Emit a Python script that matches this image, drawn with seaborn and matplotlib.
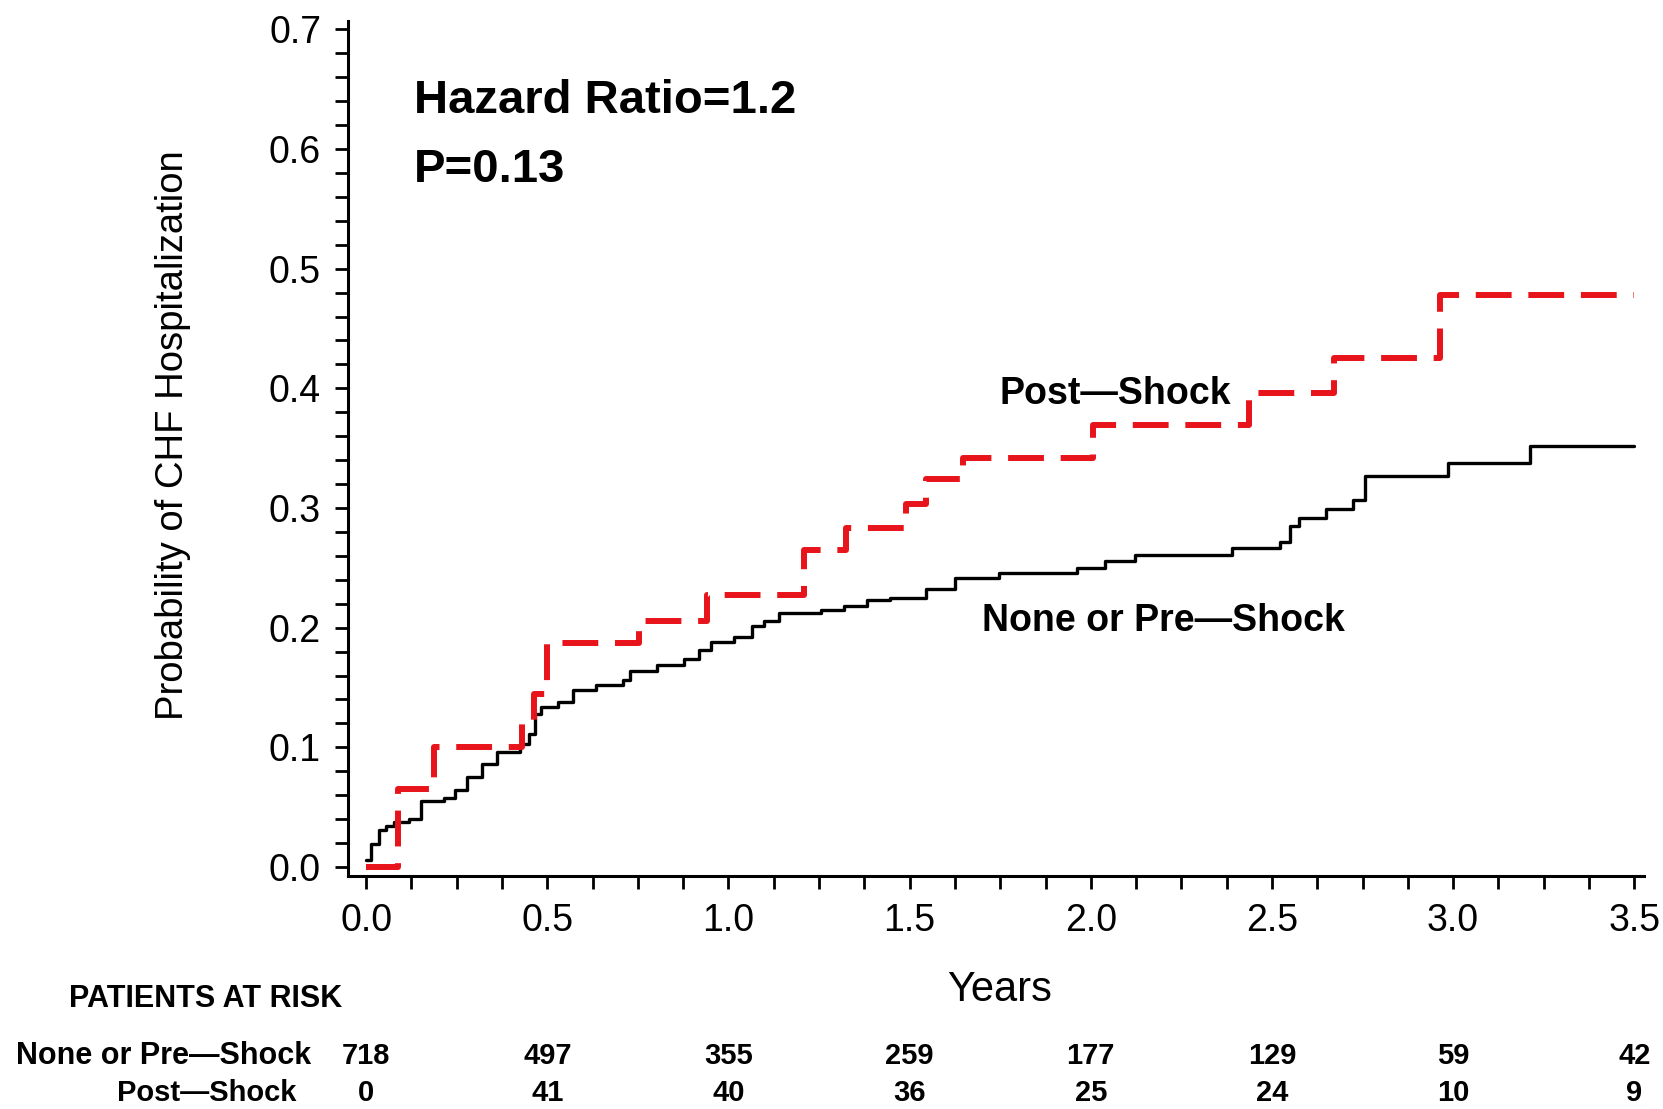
import numpy as np
import pandas as pd
import seaborn as sns
import matplotlib
matplotlib.use("Agg")
import matplotlib.pyplot as plt
import matplotlib.transforms as mtransforms
from matplotlib.ticker import MultipleLocator, FormatStrFormatter

# step curves (time of jump, value after the jump)
none_years = [0.0, 0.014, 0.035, 0.056, 0.077, 0.119, 0.15, 0.214, 0.245, 0.277,
              0.319, 0.361, 0.424, 0.45, 0.466, 0.482, 0.529, 0.572, 0.635, 0.708,
              0.729, 0.803, 0.877, 0.919, 0.951, 1.014, 1.066, 1.098, 1.14, 1.256,
              1.319, 1.382, 1.445, 1.545, 1.626, 1.746, 1.961, 2.04, 2.121, 2.389,
              2.523, 2.549, 2.576, 2.65, 2.724, 2.757, 2.985, 3.212, 3.5]
none_prob = [0.006, 0.019, 0.031, 0.034, 0.038, 0.040, 0.055, 0.058, 0.064, 0.075,
             0.086, 0.096, 0.103, 0.111, 0.128, 0.134, 0.138, 0.148, 0.152, 0.156,
             0.164, 0.169, 0.174, 0.181, 0.188, 0.192, 0.201, 0.206, 0.212, 0.215,
             0.218, 0.223, 0.225, 0.232, 0.2415, 0.2457, 0.25, 0.2555, 0.261, 0.2667,
             0.272, 0.285, 0.292, 0.299, 0.307, 0.327, 0.338, 0.352, 0.352]

post_years = [0.0, 0.087, 0.187, 0.43, 0.462, 0.50, 0.753, 0.94, 1.208, 1.324,
              1.49, 1.546, 1.646, 2.007, 2.436, 2.67, 2.965, 3.5]
post_prob = [0.0, 0.065, 0.100, 0.122, 0.145, 0.187, 0.206, 0.227, 0.265, 0.283,
             0.303, 0.324, 0.342, 0.369, 0.396, 0.425, 0.478, 0.478]

# patients at risk table
risk_years = [0.0, 0.5, 1.0, 1.5, 2.0, 2.5, 3.0, 3.5]
none_at_risk = [718, 497, 355, 259, 177, 129, 59, 42]
post_at_risk = [0, 41, 40, 36, 25, 24, 10, 9]

sns.set_theme(style="ticks")
plt.rcParams['font.family'] = ['Liberation Sans', 'DejaVu Sans']
plt.rcParams['text.color'] = 'black'
plt.rcParams['axes.labelcolor'] = 'black'
plt.rcParams['xtick.color'] = 'black'
plt.rcParams['ytick.color'] = 'black'

fig = plt.figure(figsize=(16.63, 11.09), dpi=100)
fig.patch.set_facecolor('white')
ax = fig.add_axes([0.2093, 0.2101, 0.7793, 0.771])
ax.set_facecolor('white')

none_df = pd.DataFrame({'years': none_years, 'prob': none_prob})
post_df = pd.DataFrame({'years': post_years, 'prob': post_prob})

sns.lineplot(data=none_df, x='years', y='prob', ax=ax, color='black',
             linewidth=2.4, drawstyle='steps-post')
sns.lineplot(data=post_df, x='years', y='prob', ax=ax, color='#e8141b',
             linewidth=4.3, drawstyle='steps-post', linestyle=(0, (6, 2.8)))

ax.set_xlim(-0.05, 3.527)
ax.set_ylim(-0.0075, 0.707)
ax.xaxis.set_major_locator(MultipleLocator(0.5))
ax.xaxis.set_minor_locator(MultipleLocator(0.125))
ax.yaxis.set_major_locator(MultipleLocator(0.1))
ax.yaxis.set_minor_locator(MultipleLocator(0.02))
ax.xaxis.set_major_formatter(FormatStrFormatter('%.1f'))
ax.yaxis.set_major_formatter(FormatStrFormatter('%.1f'))

sns.despine(ax=ax)
for side in ['left', 'bottom']:
    ax.spines[side].set_linewidth(2.2)
    ax.spines[side].set_color('black')
ax.tick_params(which='both', direction='out', length=9.4, width=2, color='black')
ax.tick_params(axis='x', which='major', labelsize=27, pad=10, labelcolor='black')
ax.tick_params(axis='y', which='major', labelsize=27, pad=10, labelcolor='black')

ax.set_xlabel('Years', fontsize=30, color='black')
ax.xaxis.label.set_va('center')
ax.xaxis.set_label_coords(0.503, -0.133)
ax.set_ylabel('Probability of CHF Hospitalization', fontsize=27.5, color='black')
ax.yaxis.label.set_va('center')
ax.yaxis.set_label_coords(-0.135, 0.516)

ax.text(0.131, 0.640, 'Hazard Ratio=1.2', fontsize=34, fontweight='bold', va='center', ha='left', color='black')
ax.text(0.131, 0.5825, 'P=0.13', fontsize=34, fontweight='bold', va='center', ha='left', color='black')
ax.text(2.067, 0.395, 'Post\u2014Shock', fontsize=27, fontweight='bold', va='center', ha='center', color='black')
ax.text(2.20, 0.206, 'None or Pre\u2014Shock', fontsize=27, fontweight='bold', va='center', ha='center', color='black')

# risk table under the axis
trans = mtransforms.blended_transform_factory(ax.transData, fig.transFigure)
fig.text(0.0415, 0.099, 'PATIENTS AT RISK', fontsize=22, fontweight='bold', va='center', ha='left', color='black')
fig.text(0.0096, 0.0474, 'None or Pre\u2014Shock', fontsize=22, fontweight='bold', va='center', ha='left', color='black')
fig.text(0.0702, 0.0140, 'Post\u2014Shock', fontsize=21, fontweight='bold', va='center', ha='left', color='black')
for x, n1, n2 in zip(risk_years, none_at_risk, post_at_risk):
    ax.text(x, 0.0474, str(n1), transform=trans, fontsize=21, fontweight='bold', ha='center', va='center', color='black')
    ax.text(x, 0.0140, str(n2), transform=trans, fontsize=21, fontweight='bold', ha='center', va='center', color='black')

fig.savefig('out.png', dpi=100, facecolor='white')
